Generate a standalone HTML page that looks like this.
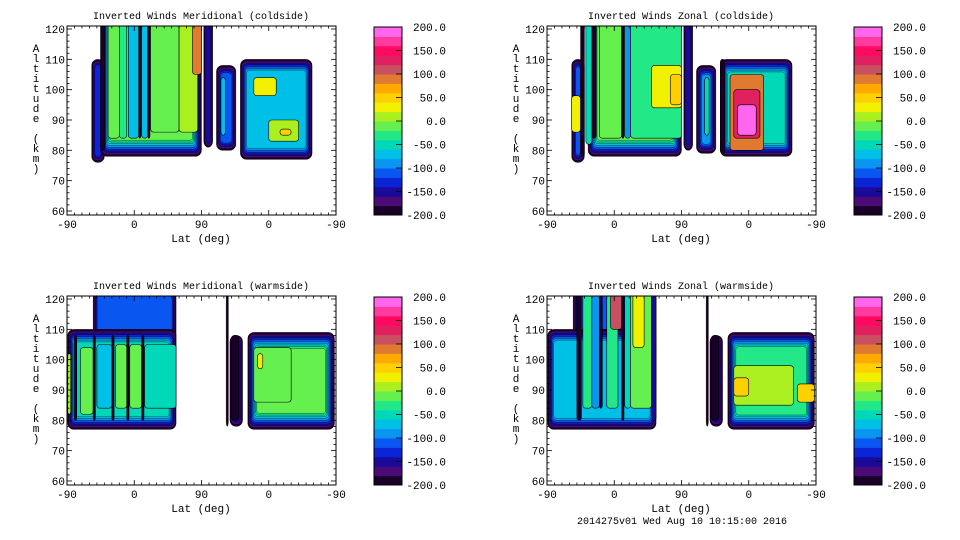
<!DOCTYPE html>
<html><head><meta charset="utf-8"><style>
body{margin:0;background:#fff;}
svg{display:block;font-family:"Liberation Mono",monospace;}
</style></head><body>
<svg id="c" width="960" height="540" xmlns="http://www.w3.org/2000/svg"></svg>
<script>
const titles = ["Inverted Winds Meridional (coldside)","Inverted Winds Zonal (coldside)","Inverted Winds Meridional (warmside)","Inverted Winds Zonal (warmside)"];
const yTicks = [60,70,80,90,100,110,120];
const xTickLabels = ["-90","0","90","0","-90"];
const cbLabels = ["200.0","150.0","100.0","50.0","0.0","-50.0","-100.0","-150.0","-200.0"];
const bandColors = ['#1a0028','#4a0a78','#1a0a9a','#0a24d6','#0a56f0','#0a96f0','#00c0e8','#00d8b8','#22e888','#66f050','#aaf020','#f0f000','#ffd000','#ffaa00','#e07a30','#c85060','#e02060','#ff0a60','#ff3aa0','#ff66ee'];
// regions: [u0,u1,altBottom,altTop,coreValue]
const regions1 = [[33,50,76,110,-150],[45,180,78,130,-30],[183,195,81,130,-170],[200,226,80,108,-120],[232,328,77,110,-80]];
const regions2 = [[33,50,76,110,-130],[55,180,78,130,-30],[183,195,80,130,-160],[200,226,79,108,-110],[232,328,78,110,-60]];
const regions3 = [[35,146,90,130,-120],[1,146,77,110,-60],[213,216,78,130,-200],[218,235,78,108,-150],[242,358,77,109,-30]];
const regions4 = [[35,146,90,130,-120],[1,146,77,110,-80],[213,216,78,130,-200],[218,235,78,108,-150],[242,358,77,109,-40]];
// strips: [u0,u1,altBottom,altTop,value]
const strips1 = [[45,51,80,130,-200],[55,70,84,130,-20],[70,80,84,130,-40],[82,96,84,130,-70],[96,99,84,130,-200],[100,108,84,130,-70],[108,111,84,130,-200],[112,150,86,130,-10],[150,175,86,130,10],[168,180,105,125,80],[206,212,85,104,-80],[250,280,98,104,20],[270,310,83,90,10],[285,300,85,87,40]];
const strips2 = [[33,45,86,98,20],[45,50,78,130,-200],[52,60,82,130,-60],[60,66,84,130,-190],[70,100,84,130,-20],[100,103,84,130,-200],[104,112,84,130,-90],[112,180,84,130,-30],[140,180,94,108,20],[165,180,95,105,50],[211,217,85,104,-60],[232,238,79,110,-200],[245,290,80,105,80],[250,285,84,100,120],[255,280,85,95,180]];
const strips3 = [[1,5,82,102,10],[10,13,80,108,-200],[18,35,82,104,-10],[35,38,80,108,-200],[40,60,84,105,-80],[60,63,80,108,-200],[65,80,84,105,-20],[80,83,80,108,-200],[84,100,84,105,-20],[100,103,80,108,-200],[104,146,84,105,-60],[220,230,80,108,-200],[250,300,86,104,-10],[255,262,97,102,30]];
const strips4 = [[40,46,80,130,-200],[48,60,84,130,-40],[60,70,84,125,-100],[70,74,84,130,-200],[80,95,84,130,-30],[85,100,110,130,100],[100,103,80,130,-200],[104,112,84,130,-60],[112,140,84,130,-10],[115,130,104,125,30],[140,146,80,130,-150],[220,230,80,108,-200],[250,330,85,98,0],[250,270,88,94,40],[335,358,86,92,40]];
const panelRegions=[regions1,regions2,regions3,regions4];
const panelStrips=[strips1,strips2,strips3,strips4];

const NS="http://www.w3.org/2000/svg";
const svg=document.getElementById('c');
function mk(tag,attrs,parent){const e=document.createElementNS(NS,tag);for(const k in attrs)e.setAttribute(k,attrs[k]);(parent||svg).appendChild(e);return e;}
function col(v){let i=Math.floor((v+200)/20);i=Math.max(0,Math.min(19,i));return bandColors[i];}
const offs=[[0,0],[480,0],[0,270],[480,270]];
const defs=mk('defs',{});
offs.forEach((o,p)=>{
  const ox=o[0],oy=o[1];
  const px=u=>ox+67+u*0.7472;
  const py=a=>oy+29+(120-a)*3.033;
  const g=mk('g',{});
  
  
  const cp=mk('clipPath',{id:'cp'+p},defs);
  mk('rect',{x:ox+67,y:oy+26,width:269,height:189},cp);
  const t=mk('text',{x:ox+201,y:oy+19,'text-anchor':'middle','font-size':'10'},g);
  t.textContent=titles[p];
  
  
  const plot=mk('g',{'clip-path':'url(#cp'+p+')'},g);
  panelRegions[p].forEach(r=>{
    const x0=px(r[0]),x1=px(r[1]),y0=py(r[3]),y1=py(r[2]);
    const n=Math.max(1,Math.round((r[4]+200)/20));
    for(let k=0;k<=n;k++){
      const ix=k*1.0,iy=k*1.8;const w=x1-x0-2*ix,h=y1-y0-2*iy;if(w<=0||h<=0)break;
      const e=mk('rect',{x:x0+ix,y:y0+iy,width:w,height:h,rx:Math.max(0,6-k*0.4),fill:col(-200+k*20),stroke:'#000','stroke-width':0.35},plot);
      
      
    }
  });
  panelStrips[p].forEach(s=>{
    const e=mk('rect',{x:px(s[0]),y:py(s[3]),width:px(s[1])-px(s[0]),height:py(s[2])-py(s[3]),rx:3,fill:col(s[4]),stroke:'#000','stroke-width':0.6},plot);
    
    
  });
  const fr=mk('rect',{x:ox+67,y:oy+26,width:269,height:189,fill:'none',stroke:'#000','stroke-width':1},g);
  
  
  for(let a=58;a<=120;a+=2){const y=py(a);if(y<oy+26||y>oy+215)continue;const L=(a%10===0)?5:2.5;
    mk('line',{x1:ox+67,x2:ox+67+L,y1:y,y2:y,stroke:'#000','stroke-width':0.8},g);
    mk('line',{x1:ox+336,x2:ox+336-L,y1:y,y2:y,stroke:'#000','stroke-width':0.8},g);}
  for(let u=0;u<=360;u+=10){const x=px(u);const L=(u%90===0)?5:2.5;
    mk('line',{x1:x,x2:x,y1:oy+215,y2:oy+215-L,stroke:'#000','stroke-width':0.8},g);
    mk('line',{x1:x,x2:x,y1:oy+26,y2:oy+26+L,stroke:'#000','stroke-width':0.8},g);}
  yTicks.forEach(a=>{const e=mk('text',{x:ox+65,y:py(a)+4,'text-anchor':'end','font-size':'11'},g);e.textContent=a;
    
    });
  xTickLabels.forEach((l,i)=>{const e=mk('text',{x:px(i*90),y:oy+228,'text-anchor':'middle','font-size':'11'},g);e.textContent=l;
    
    });
  const xl=mk('text',{x:ox+201,y:oy+242,'text-anchor':'middle','font-size':'11'},g);xl.textContent='Lat (deg)';
  
  
  const yl=mk('text',{x:ox+36,y:oy+52,'text-anchor':'middle','font-size':'11'},g);
  
  
  'Altitude (km)'.split('').forEach((ch,i)=>{const ts=mk('tspan',{x:ox+36,y:oy+52+i*10},yl);ts.textContent=ch===' '?'\u00a0':ch;});
  const cb=mk('g',{},g);
  
  
  const bh=188/20;
  bandColors.forEach((c,i)=>{mk('rect',{x:ox+374,y:oy+27+(19-i)*bh,width:28,height:bh+0.5,fill:c},cb);});
  mk('rect',{x:ox+374,y:oy+27,width:28,height:188,fill:'none',stroke:'#000','stroke-width':1},cb);
  cbLabels.forEach((l,i)=>{const y=oy+27+i*23.5;
    if(i>0&&i<8)mk('line',{x1:ox+396,x2:ox+402,y1:y,y2:y,stroke:'#000','stroke-width':0.8},cb);
    const e=mk('text',{x:ox+446,y:y+4,'text-anchor':'end','font-size':'11'},cb);e.textContent=l;
    
    });
});
const ft=mk('text',{x:682,y:524,'text-anchor':'middle','font-size':'10'});
ft.textContent='2014275v01 Wed Aug 10 10:15:00 2016';


</script>
</body></html>
